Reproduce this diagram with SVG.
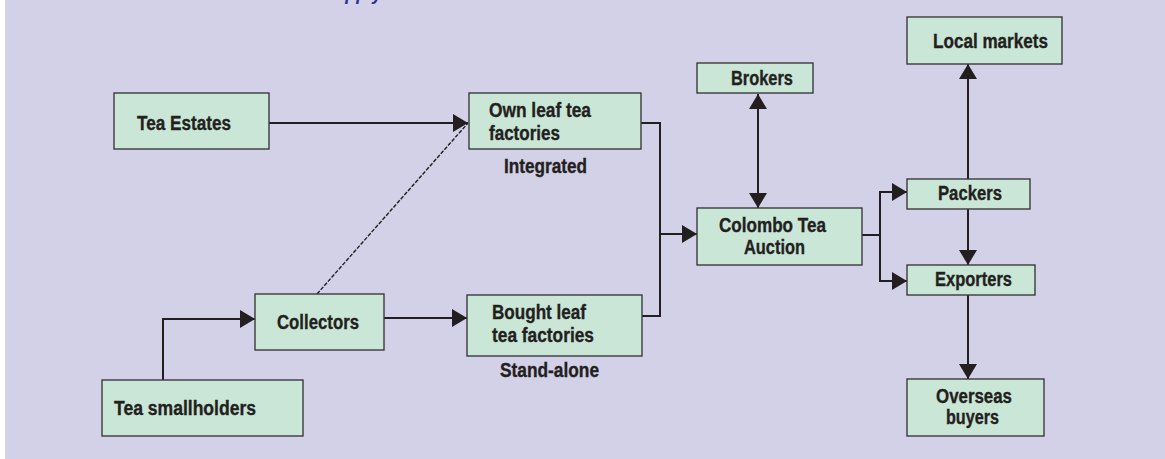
<svg xmlns="http://www.w3.org/2000/svg" width="1165" height="459" viewBox="0 0 1165 459">
  <style>
    .bg { fill: #D3D1E7; }
    .box { fill: #CAE6D6; stroke: #3B3B3D; stroke-width: 1.4; }
    .lbl { font-family: "Liberation Sans", Arial, sans-serif; font-weight: bold; font-size: 20px; fill: #231F20; stroke: #231F20; stroke-width: 0.35; }
    .title { font-family: "Liberation Sans", Arial, sans-serif; font-weight: bold; font-style: italic; font-size: 18px; fill: #2E3192; }
    .wire { fill: none; stroke: #231F20; stroke-width: 2; }
    .arrow { marker-end: url(#head); }
    .dash { fill: none; stroke: #231F20; stroke-width: 1.4; stroke-dasharray: 4 1.5; }
  </style>
  <defs>
    <marker id="head" markerUnits="userSpaceOnUse" markerWidth="16" markerHeight="18" refX="15" refY="9" orient="auto-start-reverse">
      <path d="M0,0 L15,9 L0,18 Z" fill="#231F20"/>
    </marker>
  </defs>

  <rect x="0" y="0" width="1165" height="459" fill="#FFFFFF"/>
  <rect class="bg" x="5" y="0" width="1160" height="459"/>

  <!-- heading, mostly above the visible area -->
  <text class="title" x="289" y="-0.5">Tea supply chain</text>

  <!-- connectors -->
  <g id="connectors">
    <path class="wire arrow" d="M269,123 H468"/>
    <path class="dash" d="M317,294 L468,123"/>
    <path class="wire arrow" d="M163,380 V319 H255"/>
    <path class="wire arrow" d="M384,318 H467"/>
    <path class="wire" d="M641,123 H660 V316 H642"/>
    <path class="wire arrow" d="M660,234 H697"/>
    <path class="wire arrow" d="M758,208 V94" marker-start="url(#head)"/>
    <path class="wire arrow" d="M862,235 H880 V192 H907"/>
    <path class="wire arrow" d="M880,235 V281 H907"/>
    <path class="wire arrow" d="M968,179 V64"/>
    <path class="wire arrow" d="M968,209 V265"/>
    <path class="wire arrow" d="M968,295 V379"/>
  </g>

  <g id="tea-estates">
    <rect class="box" x="114" y="93" width="155" height="56"/>
    <text class="lbl" x="137" y="130" textLength="94" lengthAdjust="spacingAndGlyphs">Tea Estates</text>
  </g>

  <g id="own-leaf-factories">
    <rect class="box" x="469" y="93" width="172" height="56"/>
    <text class="lbl" x="489" y="117" textLength="102" lengthAdjust="spacingAndGlyphs">Own leaf tea</text>
    <text class="lbl" x="489" y="140" textLength="71" lengthAdjust="spacingAndGlyphs">factories</text>
    <text class="lbl" x="504" y="173" textLength="83" lengthAdjust="spacingAndGlyphs">Integrated</text>
  </g>

  <g id="collectors">
    <rect class="box" x="255" y="294" width="129" height="56"/>
    <text class="lbl" x="277" y="329" textLength="82" lengthAdjust="spacingAndGlyphs">Collectors</text>
  </g>

  <g id="bought-leaf-factories">
    <rect class="box" x="467" y="295" width="175" height="61"/>
    <text class="lbl" x="492" y="319" textLength="94" lengthAdjust="spacingAndGlyphs">Bought leaf</text>
    <text class="lbl" x="492" y="342" textLength="102" lengthAdjust="spacingAndGlyphs">tea factories</text>
    <text class="lbl" x="500" y="377" textLength="99" lengthAdjust="spacingAndGlyphs">Stand-alone</text>
  </g>

  <g id="tea-smallholders">
    <rect class="box" x="102" y="380" width="201" height="56"/>
    <text class="lbl" x="114" y="415" textLength="142" lengthAdjust="spacingAndGlyphs">Tea smallholders</text>
  </g>

  <g id="brokers">
    <rect class="box" x="697" y="63" width="116" height="30"/>
    <text class="lbl" x="731" y="85" textLength="62" lengthAdjust="spacingAndGlyphs">Brokers</text>
  </g>

  <g id="colombo-tea-auction">
    <rect class="box" x="697" y="208" width="165" height="57"/>
    <text class="lbl" x="719" y="232" textLength="107" lengthAdjust="spacingAndGlyphs">Colombo Tea</text>
    <text class="lbl" x="744" y="254" textLength="61" lengthAdjust="spacingAndGlyphs">Auction</text>
  </g>

  <g id="local-markets">
    <rect class="box" x="907" y="17" width="155" height="47"/>
    <text class="lbl" x="933" y="48" textLength="115" lengthAdjust="spacingAndGlyphs">Local markets</text>
  </g>

  <g id="packers">
    <rect class="box" x="907" y="179" width="123" height="30"/>
    <text class="lbl" x="938" y="200" textLength="64" lengthAdjust="spacingAndGlyphs">Packers</text>
  </g>

  <g id="exporters">
    <rect class="box" x="907" y="265" width="128" height="30"/>
    <text class="lbl" x="935" y="286" textLength="77" lengthAdjust="spacingAndGlyphs">Exporters</text>
  </g>

  <g id="overseas-buyers">
    <rect class="box" x="907" y="379" width="137" height="57"/>
    <text class="lbl" x="936" y="403" textLength="76" lengthAdjust="spacingAndGlyphs">Overseas</text>
    <text class="lbl" x="946" y="424" textLength="53" lengthAdjust="spacingAndGlyphs">buyers</text>
  </g>
</svg>
